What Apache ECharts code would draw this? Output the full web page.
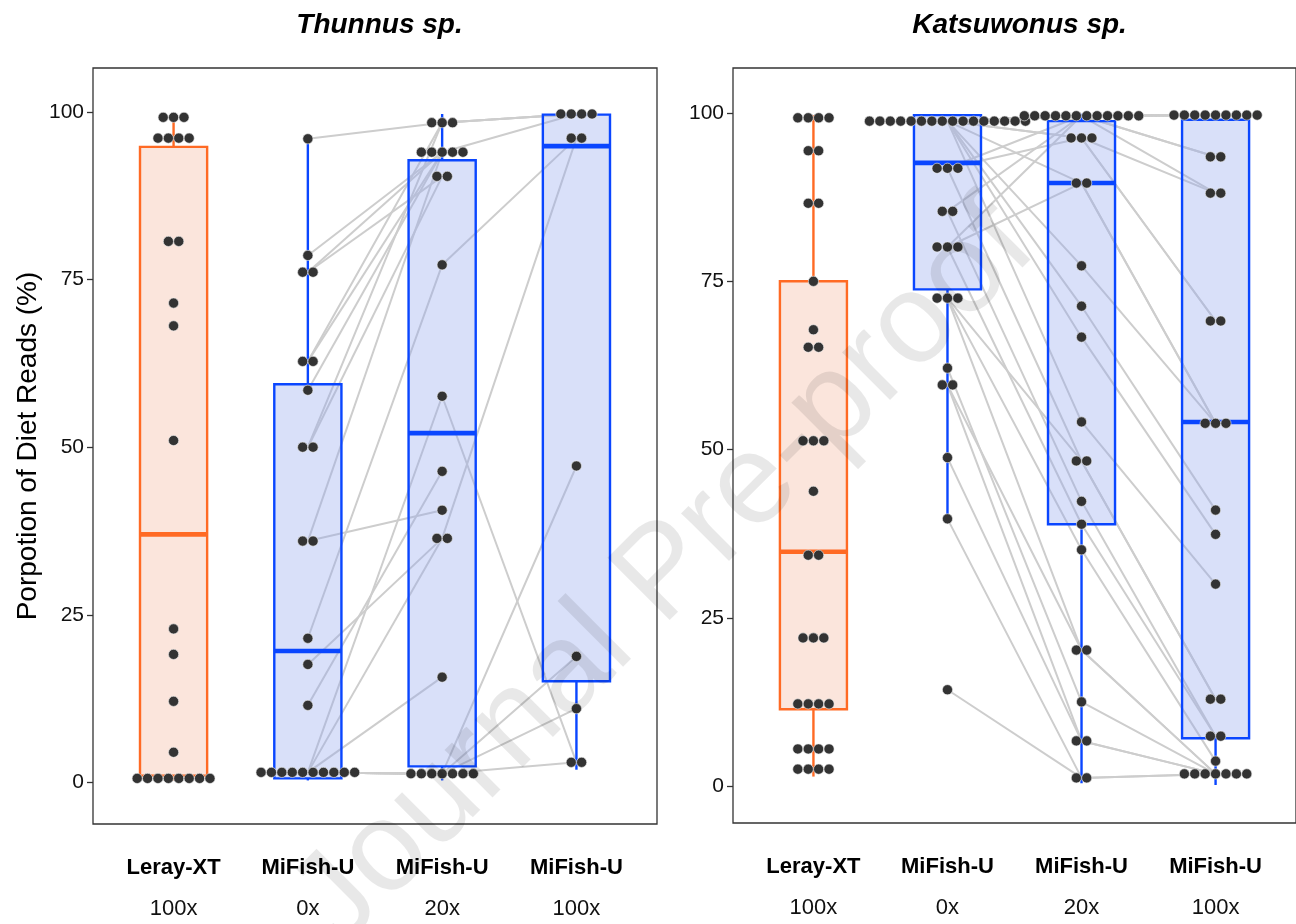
<!DOCTYPE html>
<html>
<head>
<meta charset="utf-8">
<script src="https://cdn.jsdelivr.net/npm/echarts@6/dist/echarts.min.js"></script>
<style>
html,body{margin:0;padding:0;background:#ffffff;}
#chart{width:1296px;height:924px;}
</style>
</head>
<body>
<div id="chart"></div>
<script>
// ---------------- DATA ----------------
const primerLabels = ['Leray-XT', 'MiFish-U', 'MiFish-U', 'MiFish-U'];
const doseLabels = ['100x', '0x', '20x', '100x'];
const panelTitles = ['Thunnus sp.', 'Katsuwonus sp.'];
const yTickValues = [0, 25, 50, 75, 100];
const yAxisTitle = 'Porpotion of Diet Reads (%)';
const watermarkText = 'Journal Pre-proof';

// Thunnus sp. — Leray-XT 100x (unpaired)
const thunnusLeray100 = [99.2, 99.2, 99.2, 96.1, 96.1, 96.1, 96.1, 80.7, 80.7, 71.5, 68.1, 51.0,
  22.9, 19.1, 12.1, 4.5, 0.6, 0.6, 0.6, 0.6, 0.6, 0.6, 0.6, 0.6];

// Thunnus sp. — MiFish-U paired samples: [0x, 20x, 100x] (null = not sequenced)
const thunnusMiFishPaired = [
  [96.0, 98.4, 99.7], [62.8, 98.4, 99.7], [50.0, 98.4, 99.7], [78.6, 94.0, 99.7],
  [76.1, 94.0, null], [76.1, 90.4, null], [62.8, 94.0, null], [58.5, 94.0, null],
  [50.0, 90.4, null], [36.0, 40.6, null], [36.0, 94.0, null], [21.5, 77.2, 96.1],
  [17.6, 36.4, 96.1], [11.5, 46.4, null], [1.5, 57.6, 3.0], [1.5, 36.4, null],
  [1.5, 15.7, null], [1.5, 1.3, 47.2], [1.5, 1.3, 18.8], [1.5, 1.3, 11.0],
  [1.5, 1.3, 3.0], [1.5, 1.3, null], [1.5, 1.3, null], [1.5, 1.3, null]
];

// Thunnus sp. box statistics [min, Q1, median, Q3, max] per group
const thunnusBoxStats = [
  [0.3, 1.0, 37.0, 94.8, 99.3],
  [0.3, 0.6, 19.6, 59.4, 96.0],
  [0.3, 2.4, 52.1, 92.8, 99.7],
  [1.9, 15.1, 94.9, 99.6, 99.7]
];

// Katsuwonus sp. — Leray-XT 100x (unpaired)
const katsuLeray100 = [99.3, 99.3, 99.3, 99.3, 94.4, 94.4, 86.6, 86.6, 75.0, 67.8, 65.2, 65.2,
  51.3, 51.3, 51.3, 43.8, 34.3, 34.3, 22.0, 22.0, 22.0, 12.2, 12.2, 12.2, 12.2,
  5.5, 5.5, 5.5, 5.5, 2.5, 2.5, 2.5, 2.5];

// Katsuwonus sp. — MiFish-U paired samples: [0x, 20x, 100x]
const katsuMiFishPaired = [
  [98.8, 99.6, 99.7], [98.8, 99.6, 99.7], [98.8, 99.6, 99.7], [98.8, 99.6, 99.7],
  [98.8, 99.6, 99.7], [98.8, 99.6, 99.7], [98.8, 99.6, 99.7], [98.8, 99.6, 93.5],
  [98.8, 99.6, 88.1], [91.8, 99.6, 99.7], [85.4, 99.6, 99.7], [80.1, 99.6, 93.5],
  [98.8, 96.3, 88.1], [98.8, 96.3, 69.1], [91.8, 96.3, 69.1], [98.8, 89.6, 53.9],
  [80.1, 89.6, 53.9], [98.8, 77.3, 53.9], [98.8, 71.3, 41.0], [98.8, 66.7, 37.4],
  [98.8, 54.1, 30.0], [91.8, 48.3, 12.9], [72.5, 48.3, 12.9], [85.4, 42.3, 7.4],
  [80.1, 38.9, 7.4], [72.5, 35.1, 3.7], [72.5, 20.2, 1.8], [59.6, 20.2, 1.8],
  [62.1, 12.5, 1.8], [59.6, 6.7, 1.8], [48.8, 6.7, 1.8], [39.7, 1.2, 1.8],
  [14.3, 1.2, 1.8]
];

const katsuBoxStats = [
  [1.4, 11.4, 34.8, 75.0, 99.7],
  [39.6, 73.8, 92.6, 99.7, 99.8],
  [0.4, 38.9, 89.6, 98.8, 99.9],
  [0.15, 7.1, 54.1, 99.0, 99.8]
];

// ---------------- STYLE ----------------
const FONT = '"Liberation Sans", Arial, Helvetica, sans-serif';
const BOX_STYLE = [
  { stroke: '#ff6a24', fill: 'rgba(244,181,156,0.35)' },
  { stroke: '#0a46ff', fill: 'rgba(147,167,238,0.35)' }
];
const BOX_W = 0.5;      // box width in category units
const DOT_STEP = 10.4;  // px between stacked dots
const DOT_R = 5.1;

const panels = [
  { title: panelTitles[0], leray: thunnusLeray100, paired: thunnusMiFishPaired, box: thunnusBoxStats,
    grid: { left: 93, top: 68, width: 564, height: 756 }, yMin: -6.2, yMax: 106.56, showName: true },
  { title: panelTitles[1], leray: katsuLeray100, paired: katsuMiFishPaired, box: katsuBoxStats,
    grid: { left: 733, top: 68, width: 564, height: 755 }, yMin: -5.5, yMax: 106.7, showName: false }
];

function stackRows(cat, values) {
  const counts = {}, seen = {};
  values.forEach(v => { counts[v] = (counts[v] || 0) + 1; });
  return values.map(v => { const k = seen[v] || 0; seen[v] = k + 1; return [cat, v, k, counts[v]]; });
}

function renderBox(params, api) {
  const x = api.value(0);
  const mn = api.value(1), q1 = api.value(2), md = api.value(3), q3 = api.value(4), mx = api.value(5);
  const st = BOX_STYLE[api.value(6)];
  const half = api.size([BOX_W, 0])[0] / 2;
  const pMin = api.coord([x, mn]), pQ1 = api.coord([x, q1]), pMd = api.coord([x, md]);
  const pQ3 = api.coord([x, q3]), pMx = api.coord([x, mx]);
  const cx = pMin[0];
  return {
    type: 'group',
    children: [
      { type: 'line', shape: { x1: cx, y1: pQ3[1], x2: cx, y2: pMx[1] }, style: { stroke: st.stroke, lineWidth: 2.4 } },
      { type: 'line', shape: { x1: cx, y1: pQ1[1], x2: cx, y2: pMin[1] }, style: { stroke: st.stroke, lineWidth: 2.4 } },
      { type: 'rect', shape: { x: cx - half, y: pQ3[1], width: 2 * half, height: pQ1[1] - pQ3[1] },
        style: { fill: st.fill, stroke: st.stroke, lineWidth: 2.4 } },
      { type: 'line', shape: { x1: cx - half, y1: pMd[1], x2: cx + half, y2: pMd[1] }, style: { stroke: st.stroke, lineWidth: 4.6 } }
    ]
  };
}

function renderDot(params, api) {
  const c = api.coord([api.value(0), api.value(1)]);
  const k = api.value(2), n = api.value(3);
  const dx = (k - (n - 1) / 2) * DOT_STEP;
  return {
    type: 'circle',
    shape: { cx: c[0] + dx, cy: c[1], r: DOT_R },
    style: { fill: '#333333', stroke: 'rgba(235,235,235,0.9)', lineWidth: 0.7 }
  };
}

const grids = [], xAxes = [], yAxes = [], series = [], titles = [];

panels.forEach((p, i) => {
  grids.push(Object.assign({ show: true, borderColor: '#333', borderWidth: 1.3, backgroundColor: '#fff' }, p.grid));
  xAxes.push({
    type: 'value', gridIndex: i, min: 0.4, max: 4.6,
    axisLine: { show: false }, splitLine: { show: false }, axisTick: { show: false },
    axisLabel: {
      customValues: [1, 2, 3, 4], margin: 23, color: '#000',
      formatter: v => '{b|' + primerLabels[Math.round(v) - 1] + '}\n{n|' + doseLabels[Math.round(v) - 1] + '}',
      rich: {
        b: { fontFamily: FONT, fontWeight: 'bold', fontSize: 22, lineHeight: 41, color: '#000' },
        n: { fontFamily: FONT, fontSize: 22, lineHeight: 41, color: '#111' }
      }
    }
  });
  yAxes.push({
    type: 'value', gridIndex: i, min: p.yMin, max: p.yMax,
    axisLine: { show: false }, splitLine: { show: false },
    axisTick: { show: true, customValues: yTickValues, length: 6, lineStyle: { color: '#333', width: 1.3 } },
    axisLabel: { customValues: yTickValues, margin: 9, fontFamily: FONT, fontSize: 21, color: '#111' },
    name: p.showName ? yAxisTitle : '',
    nameLocation: 'middle', nameRotate: 90, nameGap: 51,
    nameTextStyle: { fontFamily: FONT, fontSize: 28, color: '#000' }
  });
  titles.push({
    text: p.title, left: p.grid.left + p.grid.width / 2 - 0.5, top: 6, textAlign: 'center',
    textStyle: { fontFamily: FONT, fontWeight: 'bold', fontStyle: 'italic', fontSize: 28, color: '#000' }
  });

  // paired lines (drawn beneath the translucent boxes)
  p.paired.forEach(s => {
    const pts = [[2, s[0]], [3, s[1]]];
    if (s[2] !== null) pts.push([4, s[2]]);
    series.push({
      type: 'line', xAxisIndex: i, yAxisIndex: i, z: 1, silent: true, symbol: 'none',
      lineStyle: { color: '#cdcdcd', width: 2 }, data: pts
    });
  });
  // boxes
  series.push({
    type: 'custom', xAxisIndex: i, yAxisIndex: i, z: 2, silent: true,
    renderItem: renderBox,
    data: p.box.map((b, j) => [j + 1].concat(b).concat([j === 0 ? 0 : 1]))
  });
  // dots
  const dots = stackRows(1, p.leray)
    .concat(stackRows(2, p.paired.map(s => s[0])))
    .concat(stackRows(3, p.paired.map(s => s[1])))
    .concat(stackRows(4, p.paired.map(s => s[2]).filter(v => v !== null)));
  series.push({
    type: 'custom', xAxisIndex: i, yAxisIndex: i, z: 4, silent: true,
    renderItem: renderDot, data: dots
  });
});

const chart = echarts.init(document.getElementById('chart'), null, { renderer: 'canvas' });
chart.setOption({
  animation: false,
  backgroundColor: '#ffffff',
  title: titles,
  grid: grids,
  xAxis: xAxes,
  yAxis: yAxes,
  series: series,
  graphic: [{
    type: 'text', x: 665, y: 575, rotation: 45 * Math.PI / 180, z: 100, silent: true,
    style: {
      text: watermarkText, font: '128px "Liberation Sans", Arial, sans-serif',
      fill: 'rgba(0,0,0,0.09)', align: 'center', verticalAlign: 'middle'
    }
  }]
});
</script>
</body>
</html>
